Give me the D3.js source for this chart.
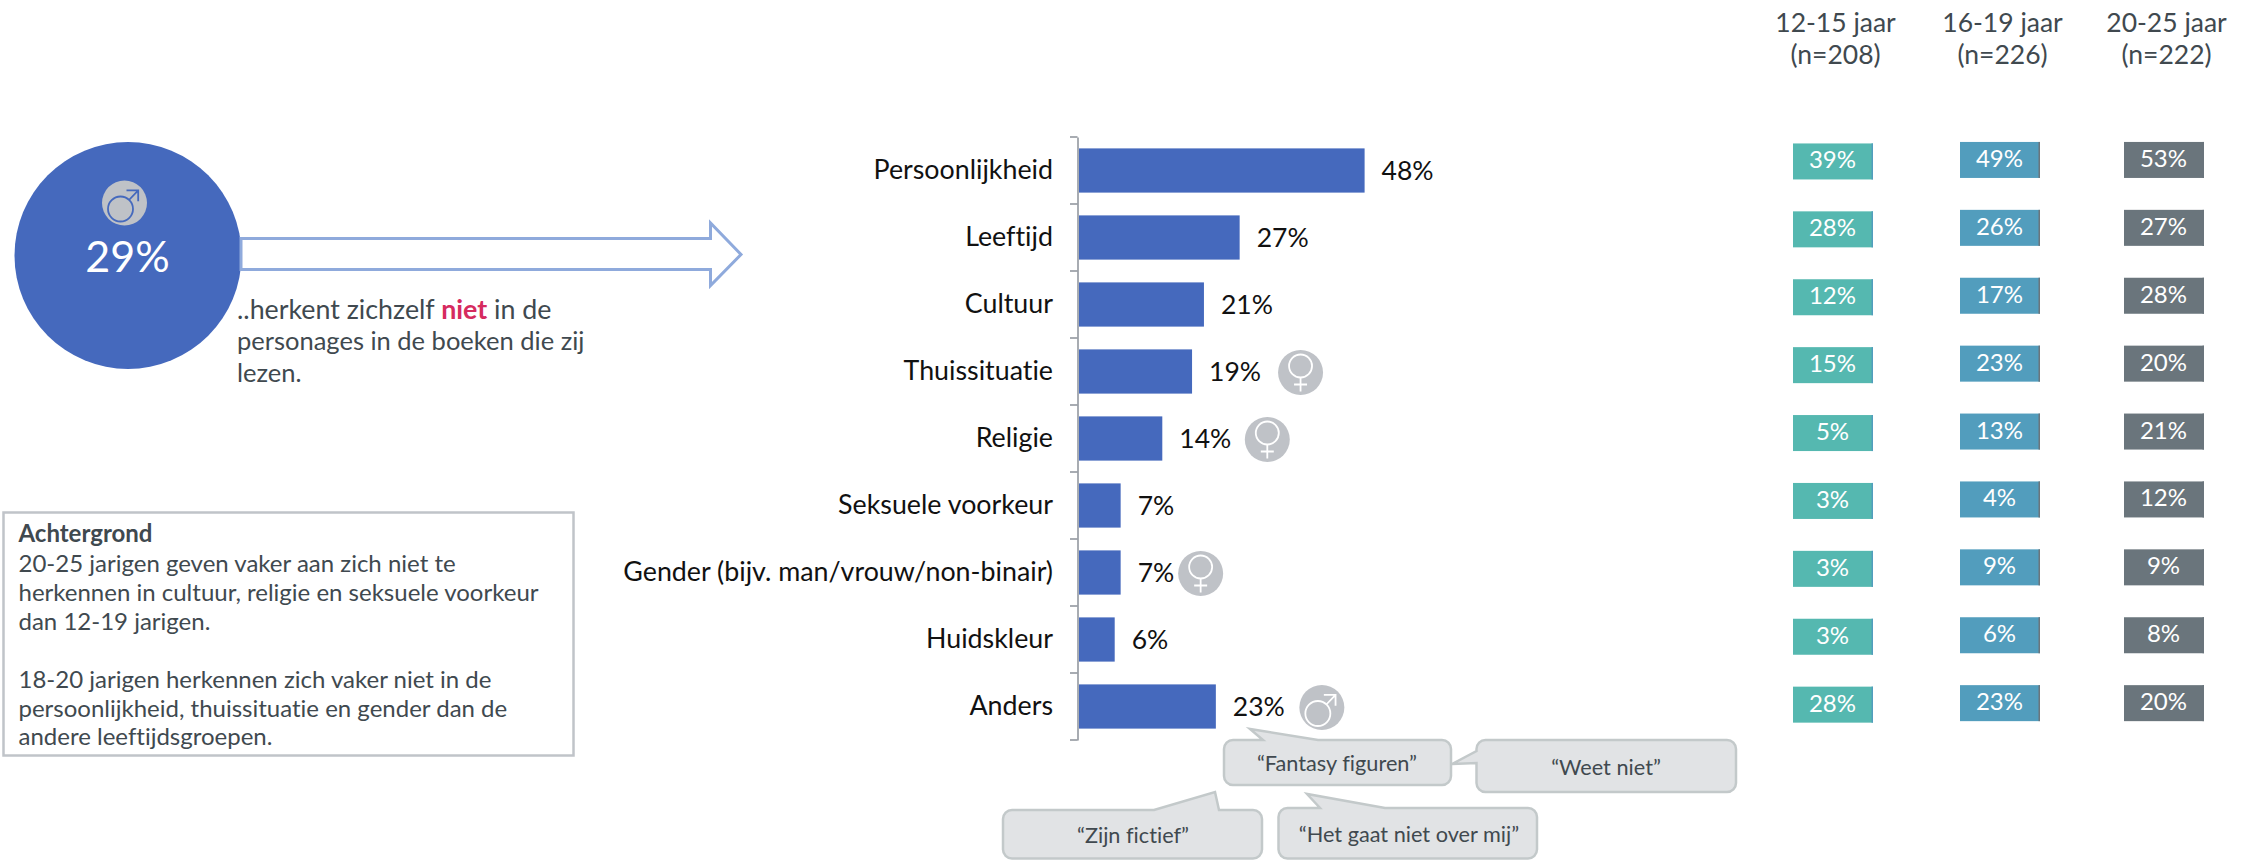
<!DOCTYPE html>
<html lang="nl">
<head>
<meta charset="utf-8">
<title>Herkenning in personages</title>
<script src="https://cdn.jsdelivr.net/npm/d3@7"></script>
<style>
  html, body { margin: 0; padding: 0; background: #fff; }
  svg { display: block; font-family: Lato, sans-serif; font-variant-ligatures: none; }
  .domain, .band-tick { stroke: #8b9099; stroke-width: 1.5; fill: none; }
  .category-axis text { font-size: 26.8px; fill: #111; font-family: Lato, sans-serif; }
  .value-label { font-size: 26.5px; fill: #111; }
  .dark-text { fill: #40494f; }
</style>
</head>
<body>
<svg id="chart" width="2253" height="860"></svg>
<script>
// data
const CATEGORIES = ['Persoonlijkheid', 'Leeftijd', 'Cultuur', 'Thuissituatie',
  'Religie', 'Seksuele voorkeur', 'Gender (bijv. man/vrouw/non-binair)',
  'Huidskleur', 'Anders'];
const TOTAL_VALUES = [48, 27, 21, 19, 14, 7, 7, 6, 23];
const AGE_GROUPS = ['12-15 jaar', '16-19 jaar', '20-25 jaar'];
const AGE_COUNTS = ['(n=208)', '(n=226)', '(n=222)'];
const VALUES_12_15 = [39, 28, 12, 15, 5, 3, 3, 3, 28];
const VALUES_16_19 = [49, 26, 17, 23, 13, 4, 9, 6, 23];
const VALUES_20_25 = [53, 27, 28, 20, 21, 12, 9, 8, 20];
const GENDER_MARKS = {
  'Thuissituatie': 'female',
  'Religie': 'female',
  'Gender (bijv. man/vrouw/non-binair)': 'female',
  'Anders': 'male',
};
const HEADLINE_VALUE = '29%';
const HEADLINE_LINES = ['personages in de boeken die zij', 'lezen.'];
const BACKGROUND_LINES = [
  '20-25 jarigen geven vaker aan zich niet te',
  'herkennen in cultuur, religie en seksuele voorkeur',
  'dan 12-19 jarigen.',
  '',
  '18-20 jarigen herkennen zich vaker niet in de',
  'persoonlijkheid, thuissituatie en gender dan de',
  'andere leeftijdsgroepen.',
];

// layout
const BAR_LEFT = 1079;
const AXIS_X = 1077.5;
const BAR_COLOR = '#4569bd';
const ICON_RADIUS = 22.5;
const ICON_COLOR = '#bfc2c7';
const LABEL_GAP = 17;
// icon centre, measured from the end of the bar
const ICON_OFFSETS = {
  'Thuissituatie': 108.5,
  'Religie': 105,
  'Gender (bijv. man/vrouw/non-binair)': 80,
  'Anders': 106,
};
const PANEL_WIDTH = 80;
const PANEL_HEIGHT = 36;
const PANELS = [
  {values: VALUES_12_15, left: 1793, top: 127.5, fill: '#55b8b0', edge: '#529dbd'},
  {values: VALUES_16_19, left: 1960, top: 126, fill: '#529dbd', edge: '#6a757c'},
  {values: VALUES_20_25, left: 2124, top: 126, fill: '#6a757c', edge: '#6a757c'},
];
const CALLOUT_FILL = '#e1e3e5';
const CALLOUT_STROKE = '#c3c9ca';

const svg = d3.select('#chart');

const x = d3.scaleLinear().domain([0, 100]).range([BAR_LEFT, BAR_LEFT + 595]);
const y = d3.scaleBand()
    .domain(CATEGORIES)
    .range([137, 740])
    .paddingInner(0.34)
    .paddingOuter(0.17);

/**
 * Draws a gender symbol on a round badge.
 * @param {!Object} parent selection to draw into
 * @param {string} kind 'male' or 'female'
 * @param {number} cx
 * @param {number} cy
 * @param {string} lineColor
 */
function drawGenderIcon(parent, kind, cx, cy, lineColor) {
  const g = parent.append('g').attr('transform', `translate(${cx},${cy})`);
  g.append('circle').attr('r', ICON_RADIUS).attr('fill', ICON_COLOR);
  const line = g.append('g')
      .attr('fill', 'none')
      .attr('stroke', lineColor)
      .attr('stroke-width', 1.8);
  if (kind === 'female') {
    line.append('circle').attr('cy', -6.5).attr('r', 11.5);
    line.append('path').attr('d', 'M0,5V19M-6.5,12H6.5');
  } else {
    line.append('circle').attr('cx', -4).attr('cy', 6).attr('r', 12.5);
    line.append('path').attr('d', 'M4.5,-3L13.7,-12.7M2,-12.7H13.7V-1.7');
  }
}

/**
 * Builds a rounded box with a pointer leaving one of its sides.
 * @param {!Array<number>} box left, top, right, bottom
 * @param {!Array<!Array<number>>} tail base start, tip, base end, clockwise
 * @param {string} side 'top' or 'left'
 * @return {string} path data
 */
function calloutPath([l, t, r, b], tail, side) {
  const radius = 9;
  const p = d3.path();
  p.moveTo(l + radius, t);
  if (side === 'top') tail.forEach(pt => p.lineTo(pt[0], pt[1]));
  p.arcTo(r, t, r, b, radius);
  p.arcTo(r, b, l, b, radius);
  p.arcTo(l, b, l, t, radius);
  if (side === 'left') tail.forEach(pt => p.lineTo(pt[0], pt[1]));
  p.arcTo(l, t, r, t, radius);
  p.closePath();
  return p.toString();
}

// ---- left: headline circle, arrow, text
svg.append('circle')
    .attr('cx', 128)
    .attr('cy', 255.5)
    .attr('r', 113.5)
    .attr('fill', BAR_COLOR);
drawGenderIcon(svg, 'male', 124.5, 203, BAR_COLOR);
svg.append('text')
    .attr('x', 127.5)
    .attr('y', 272)
    .attr('text-anchor', 'middle')
    .attr('font-size', 43)
    .attr('fill', '#fff')
    .text(HEADLINE_VALUE);

svg.append('path')
    .attr('d', 'M241,238.5H710.5V223L741,254.5L710.5,285.5V269.5H241Z')
    .attr('fill', '#fff')
    .attr('stroke', '#8faadc')
    .attr('stroke-width', 3);

const headline = svg.append('text')
    .attr('class', 'dark-text')
    .attr('x', 237)
    .attr('y', 318.5)
    .attr('font-size', 26.8);
headline.append('tspan').text('..herkent zichzelf ');
headline.append('tspan').attr('font-weight', 700).attr('fill', '#d62b5f').text('niet');
headline.append('tspan').text(' in de');
svg.selectAll('.headline-line')
    .data(HEADLINE_LINES)
    .join('text')
    .attr('class', 'headline-line dark-text')
    .attr('x', 237)
    .attr('y', (d, i) => 350 + i * 32)
    .attr('font-size', 25.5)
    .text(d => d);

// ---- left: background box
svg.append('rect')
    .attr('x', 3.5)
    .attr('y', 512.5)
    .attr('width', 570)
    .attr('height', 243)
    .attr('fill', '#fff')
    .attr('stroke', '#c0c4c9')
    .attr('stroke-width', 2.5);
svg.append('text')
    .attr('class', 'dark-text')
    .attr('x', 18.5)
    .attr('y', 542)
    .attr('font-size', 24)
    .attr('font-weight', 700)
    .text('Achtergrond');
svg.selectAll('.background-line')
    .data(BACKGROUND_LINES)
    .join('text')
    .attr('class', 'background-line dark-text')
    .attr('x', 18.5)
    .attr('y', (d, i) => 572 + i * 28.9)
    .attr('font-size', 24)
    .text(d => d);

// ---- middle: bars
const axis = svg.append('g')
    .attr('class', 'category-axis')
    .attr('transform', `translate(${AXIS_X},0)`)
    .call(d3.axisLeft(y).tickSize(0).tickPadding(24.5));
axis.selectAll('.band-tick')
    .data(d3.range(CATEGORIES.length + 1))
    .join('line')
    .attr('class', 'band-tick')
    .attr('x1', -7.5)
    .attr('x2', 0)
    .attr('y1', i => 137 + i * y.step())
    .attr('y2', i => 137 + i * y.step());

svg.selectAll('.bar')
    .data(CATEGORIES)
    .join('rect')
    .attr('class', 'bar')
    .attr('x', x(0))
    .attr('y', d => y(d))
    .attr('width', (d, i) => x(TOTAL_VALUES[i]) - x(0))
    .attr('height', y.bandwidth())
    .attr('fill', BAR_COLOR);

svg.selectAll('.value-label')
    .data(CATEGORIES)
    .join('text')
    .attr('class', 'value-label')
    .attr('x', (d, i) => x(TOTAL_VALUES[i]) + LABEL_GAP)
    .attr('y', d => y(d) + y.bandwidth() / 2 + 9)
    .text((d, i) => `${TOTAL_VALUES[i]}%`);

CATEGORIES.forEach((category, i) => {
  if (!GENDER_MARKS[category]) return;
  drawGenderIcon(
      svg, GENDER_MARKS[category], x(TOTAL_VALUES[i]) + ICON_OFFSETS[category],
      y(category) + y.bandwidth() / 2 + 1, '#fff');
});

// ---- middle: speech bubbles
const CALLOUTS = [
  {text: '\u201CFantasy figuren\u201D', box: [1224, 740, 1451, 785], side: 'top',
   tail: [[1263, 740], [1250, 729], [1318, 740]], tx: 1337, ty: 771},
  {text: '\u201CWeet niet\u201D', box: [1476.5, 740, 1736, 792], side: 'left',
   tail: [[1476.5, 763], [1452, 764], [1476.5, 751]], tx: 1606, ty: 775},
  {text: '\u201CZijn fictief\u201D', box: [1003, 810, 1262, 858.5], side: 'top',
   tail: [[1154, 810], [1215, 792], [1219, 810]], tx: 1133, ty: 843},
  {text: '\u201CHet gaat niet over mij\u201D', box: [1278.5, 808, 1537, 858.5], side: 'top',
   tail: [[1320, 808], [1307, 794], [1385, 808]], tx: 1409, ty: 842},
];
CALLOUTS.forEach(c => {
  svg.append('path')
      .attr('d', calloutPath(c.box, c.tail, c.side))
      .attr('fill', CALLOUT_FILL)
      .attr('stroke', CALLOUT_STROKE)
      .attr('stroke-width', 2.5);
  svg.append('text')
      .attr('class', 'dark-text')
      .attr('x', c.tx)
      .attr('y', c.ty)
      .attr('text-anchor', 'middle')
      .attr('font-size', 21.7)
      .text(c.text);
});

// ---- right: age group panels
PANELS.forEach((panel, col) => {
  const py = d3.scaleBand()
      .domain(CATEGORIES)
      .range([panel.top, panel.top + 67.9 * CATEGORIES.length]);
  const cy = d => py(d) + py.bandwidth() / 2;
  const g = svg.append('g');
  g.selectAll('.panel-bar')
      .data(CATEGORIES)
      .join('rect')
      .attr('class', 'panel-bar')
      .attr('x', panel.left)
      .attr('y', d => cy(d) - PANEL_HEIGHT / 2)
      .attr('width', PANEL_WIDTH)
      .attr('height', PANEL_HEIGHT)
      .attr('fill', panel.fill);
  g.selectAll('.panel-edge')
      .data(CATEGORIES)
      .join('rect')
      .attr('class', 'panel-edge')
      .attr('x', panel.left + PANEL_WIDTH - 1.5)
      .attr('y', d => cy(d) - PANEL_HEIGHT / 2)
      .attr('width', 1.5)
      .attr('height', PANEL_HEIGHT)
      .attr('fill', panel.edge);
  g.selectAll('.panel-label')
      .data(CATEGORIES)
      .join('text')
      .attr('class', 'panel-label')
      .attr('x', panel.left + PANEL_WIDTH / 2 - 0.5)
      .attr('y', d => cy(d) + 7)
      .attr('text-anchor', 'middle')
      .attr('font-size', 24)
      .attr('fill', '#fff')
      .text((d, i) => `${panel.values[i]}%`);
  const headerX = panel.left + PANEL_WIDTH / 2 + 2.5;
  [AGE_GROUPS[col], AGE_COUNTS[col]].forEach((line, i) => {
    g.append('text')
        .attr('class', 'dark-text')
        .attr('x', headerX)
        .attr('y', 32 + i * 32)
        .attr('text-anchor', 'middle')
        .attr('font-size', 26.5)
        .text(line);
  });
});
</script>
</body>
</html>
